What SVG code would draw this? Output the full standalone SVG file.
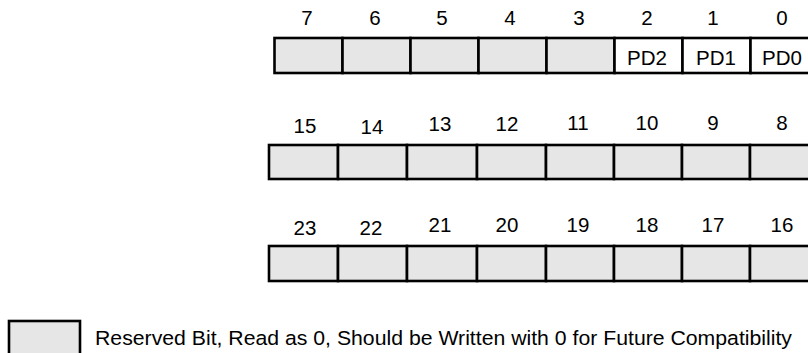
<svg xmlns="http://www.w3.org/2000/svg" width="808" height="353" viewBox="0 0 808 353">
<style>
text{font-family:"Liberation Sans",Arial,sans-serif;font-size:20.5px;fill:#000}
.n{text-anchor:middle}
.r{fill:#e6e6e6;stroke:#000;stroke-width:2.6}
.w{fill:#fff;stroke:#000;stroke-width:2.6}
</style>
<rect width="808" height="353" fill="#fff"/>
<g id="row0">
<rect class="r" x="274.5" y="38" width="68" height="35"/>
<rect class="r" x="342.5" y="38" width="68" height="35"/>
<rect class="r" x="410.5" y="38" width="68" height="35"/>
<rect class="r" x="478.5" y="38" width="68" height="35"/>
<rect class="r" x="546.5" y="38" width="68" height="35"/>
<rect class="w" x="614.5" y="38" width="68" height="35"/>
<rect class="w" x="682.5" y="38" width="68" height="35"/>
<rect class="w" x="750.5" y="38" width="68" height="35"/>
<text class="n" x="307" y="25">7</text>
<text class="n" x="375" y="25">6</text>
<text class="n" x="442" y="25">5</text>
<text class="n" x="510" y="25">4</text>
<text class="n" x="579" y="25">3</text>
<text class="n" x="647" y="25">2</text>
<text class="n" x="713" y="25">1</text>
<text class="n" x="782" y="25">0</text>
<text class="n" x="647" y="65">PD2</text>
<text class="n" x="716" y="65">PD1</text>
<text class="n" x="782" y="65">PD0</text>
</g>
<g id="row1">
<rect class="r" x="269" y="145" width="69" height="34"/>
<rect class="r" x="338" y="145" width="69" height="34"/>
<rect class="r" x="407" y="145" width="70" height="34"/>
<rect class="r" x="477" y="145" width="69" height="34"/>
<rect class="r" x="546" y="145" width="68" height="34"/>
<rect class="r" x="614" y="145" width="68" height="34"/>
<rect class="r" x="682" y="145" width="68" height="34"/>
<rect class="r" x="750" y="145" width="68" height="34"/>
<text class="n" x="305" y="133">15</text>
<text class="n" x="372" y="134">14</text>
<text class="n" x="440" y="131">13</text>
<text class="n" x="507" y="131">12</text>
<text class="n" x="578" y="130">11</text>
<text class="n" x="647" y="130">10</text>
<text class="n" x="713" y="130">9</text>
<text class="n" x="782" y="130">8</text>
</g>
<g id="row2">
<rect class="r" x="269" y="246" width="69" height="35"/>
<rect class="r" x="338" y="246" width="69" height="35"/>
<rect class="r" x="407" y="246" width="70" height="35"/>
<rect class="r" x="477" y="246" width="69" height="35"/>
<rect class="r" x="546" y="246" width="68" height="35"/>
<rect class="r" x="614" y="246" width="68" height="35"/>
<rect class="r" x="682" y="246" width="68" height="35"/>
<rect class="r" x="750" y="246" width="68" height="35"/>
<text class="n" x="305" y="235">23</text>
<text class="n" x="371" y="235">22</text>
<text class="n" x="440" y="232">21</text>
<text class="n" x="507" y="232">20</text>
<text class="n" x="578" y="232">19</text>
<text class="n" x="647" y="232">18</text>
<text class="n" x="713" y="232">17</text>
<text class="n" x="782" y="232">16</text>
</g>
<g id="legend">
<rect class="r" x="9" y="321" width="71" height="40"/>
<text x="95" y="345" textLength="697" lengthAdjust="spacingAndGlyphs">Reserved Bit, Read as 0, Should be Written with 0 for Future Compatibility</text>
</g>
</svg>
